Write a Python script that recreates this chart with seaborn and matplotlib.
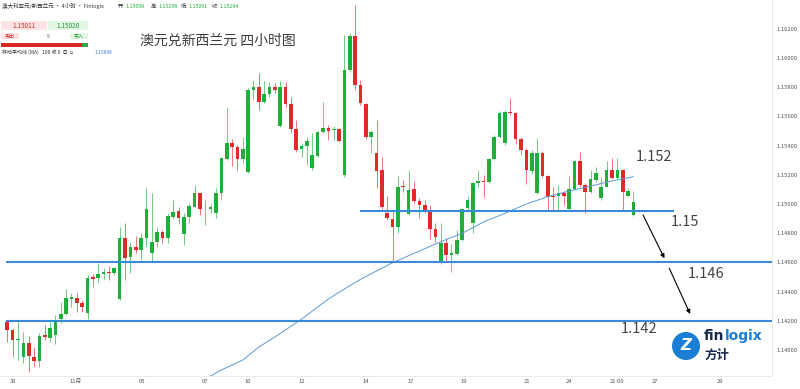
import numpy as np
import pandas as pd
import matplotlib
matplotlib.use('Agg')
import matplotlib.pyplot as plt
import matplotlib.patches as mpatches
import seaborn as sns

# ===== DATA (4H candles, AUD/NZD) =====
opens = [1.14194, 1.14137, 1.14068, 1.13952, 1.14048, 1.13954, 1.13927, 1.14103, 1.14084, 1.14105,
         1.14210, 1.14247, 1.14351, 1.14358, 1.14324, 1.14255, 1.14498, 1.14495, 1.14521, 1.14536,
         1.14529, 1.14347, 1.14765, 1.14635, 1.14708, 1.14685, 1.14765, 1.14666, 1.14742, 1.14810,
         1.14765, 1.14913, 1.14952, 1.14795, 1.14909, 1.14982, 1.15073, 1.14964, 1.14966, 1.14936,
         1.15073, 1.15308, 1.15416, 1.15388, 1.15308, 1.15217, 1.15781, 1.15799, 1.15701, 1.15754,
         1.15804, 1.15534, 1.15804, 1.15685, 1.15512, 1.15375, 1.15397, 1.15245, 1.15329, 1.15495,
         1.15523, 1.15510, 1.15512, 1.15199, 1.15918, 1.16151, 1.15815, 1.15685, 1.15457, 1.15351,
         1.15233, 1.14940, 1.14895, 1.14845, 1.15123, 1.14932, 1.15101, 1.15023, 1.14991, 1.14947,
         1.14827, 1.14594, 1.14731, 1.14651, 1.14658, 1.14753, 1.14971, 1.14872, 1.15146, 1.15160,
         1.15153, 1.15306, 1.15461, 1.15416, 1.15630, 1.15621, 1.15443, 1.15370, 1.15228, 1.15073,
         1.15351, 1.15192, 1.15055, 1.15055, 1.15077, 1.14964, 1.15101, 1.15297, 1.15130, 1.15084,
         1.15164, 1.15039, 1.15119, 1.15233, 1.15176, 1.15233, 1.15055, 1.14925]
highs = [1.14201, 1.14151, 1.14205, 1.14125, 1.14096, 1.14023, 1.14116, 1.14171, 1.14194, 1.14240,
         1.14331, 1.14416, 1.14388, 1.14392, 1.14342, 1.14514, 1.14521, 1.14598, 1.14560, 1.14575,
         1.14570, 1.14845, 1.14868, 1.14742, 1.14781, 1.14799, 1.15108, 1.15077, 1.14845, 1.14822,
         1.14936, 1.15027, 1.14982, 1.14936, 1.15005, 1.15130, 1.15077, 1.15027, 1.15000, 1.15108,
         1.15324, 1.15667, 1.15443, 1.15404, 1.15457, 1.15795, 1.15849, 1.15899, 1.15845, 1.15838,
         1.15827, 1.15845, 1.15838, 1.15735, 1.15575, 1.15416, 1.15461, 1.15484, 1.15502, 1.15701,
         1.15541, 1.15534, 1.15519, 1.16158, 1.16169, 1.16363, 1.15849, 1.15694, 1.15507, 1.15575,
         1.15324, 1.15055, 1.14954, 1.15192, 1.15164, 1.15233, 1.15160, 1.15039, 1.15027, 1.14993,
         1.14872, 1.14872, 1.14765, 1.14726, 1.14822, 1.14971, 1.15055, 1.15153, 1.15233, 1.15199,
         1.15313, 1.15473, 1.15639, 1.15644, 1.15724, 1.15632, 1.15461, 1.15382, 1.15370, 1.15450,
         1.15365, 1.15199, 1.15119, 1.15130, 1.15091, 1.15192, 1.15301, 1.15358, 1.15142, 1.15233,
         1.15251, 1.15187, 1.15297, 1.15313, 1.15313, 1.15238, 1.15110, 1.15091]
lows = [1.14057, 1.13954, 1.13931, 1.13909, 1.13851, 1.13886, 1.13886, 1.14068, 1.14057, 1.14041,
        1.14183, 1.14240, 1.14297, 1.14262, 1.14262, 1.14210, 1.14429, 1.14468, 1.14484, 1.14479,
        1.14514, 1.14342, 1.14479, 1.14525, 1.14662, 1.14616, 1.14708, 1.14605, 1.14708, 1.14735,
        1.14735, 1.14895, 1.14863, 1.14719, 1.14868, 1.14977, 1.14925, 1.14856, 1.14936, 1.14902,
        1.15027, 1.15301, 1.15260, 1.15233, 1.15279, 1.15212, 1.15712, 1.15644, 1.15690, 1.15735,
        1.15758, 1.15530, 1.15667, 1.15484, 1.15358, 1.15324, 1.15267, 1.15233, 1.15320, 1.15488,
        1.15438, 1.15438, 1.15427, 1.15183, 1.15906, 1.15781, 1.15678, 1.15443, 1.15347, 1.15108,
        1.14966, 1.14890, 1.14605, 1.14803, 1.15084, 1.14925, 1.15005, 1.14902, 1.14936, 1.14758,
        1.14742, 1.14590, 1.14605, 1.14536, 1.14651, 1.14749, 1.14947, 1.14799, 1.15119, 1.15046,
        1.15142, 1.15301, 1.15450, 1.15404, 1.15610, 1.15411, 1.15336, 1.15137, 1.15206, 1.15069,
        1.15183, 1.14959, 1.14959, 1.14959, 1.14993, 1.14959, 1.15096, 1.15119, 1.14936, 1.15073,
        1.15153, 1.15027, 1.15114, 1.15169, 1.15169, 1.14959, 1.15048, 1.14918]
closes = [1.14137, 1.14068, 1.14072, 1.14048, 1.13959, 1.13927, 1.14096, 1.14087, 1.14149, 1.14205,
          1.14244, 1.14354, 1.14365, 1.14324, 1.14297, 1.14495, 1.14488, 1.14521, 1.14534, 1.14529,
          1.14560, 1.14765, 1.14628, 1.14708, 1.14685, 1.14765, 1.14966, 1.14742, 1.14810, 1.14765,
          1.14918, 1.14947, 1.14902, 1.14909, 1.14986, 1.15073, 1.14964, 1.14968, 1.14982, 1.15073,
          1.15313, 1.15416, 1.15388, 1.15308, 1.15375, 1.15781, 1.15798, 1.15701, 1.15754, 1.15804,
          1.15781, 1.15804, 1.15685, 1.15512, 1.15370, 1.15397, 1.15434, 1.15336, 1.15495, 1.15523,
          1.15502, 1.15514, 1.15434, 1.15918, 1.16151, 1.15815, 1.15690, 1.15457, 1.15495, 1.15228,
          1.14979, 1.14902, 1.14845, 1.15119, 1.15114, 1.15096, 1.15023, 1.14993, 1.14954, 1.14827,
          1.14772, 1.14731, 1.14651, 1.14662, 1.14753, 1.14964, 1.15027, 1.15142, 1.15160, 1.15151,
          1.15306, 1.15461, 1.15621, 1.15632, 1.15621, 1.15443, 1.15370, 1.15233, 1.15347, 1.15351,
          1.15192, 1.15050, 1.15046, 1.15077, 1.15055, 1.15101, 1.15297, 1.15130, 1.15084, 1.15169,
          1.15210, 1.15119, 1.15233, 1.15176, 1.15233, 1.15084, 1.15089, 1.15011]

# 100-period moving average at these candles
ma_idx = [36, 40, 44, 47, 50, 55, 60, 63, 66, 72, 77, 81, 85, 89, 93, 97, 101, 105, 109, 113, 117]
ma_val = [1.13780, 1.13863, 1.13931, 1.14020, 1.14089, 1.14212, 1.14349, 1.14418, 1.14484,
          1.14598, 1.14678, 1.14742, 1.14799, 1.14877, 1.14936, 1.15000, 1.15050, 1.15089,
          1.15123, 1.15158, 1.15187]

# x-axis labels and the candle they sit under
date_pos = [1.1, 12.8, 25.2, 36.9, 45.0, 55.1, 67.0, 75.3, 85.2, 97.1, 105.0, 114.0, 121.1, 133.1]
date_lbl = ['30', '11月', '05', '07', '10', '12', '14', '17', '19', '21', '24', '21:00', '27', '29']

# support / target levels
levels = [1.146, 1.142]
short_level = 1.14952

df = pd.DataFrame({'open': opens, 'high': highs, 'low': lows, 'close': closes})
df['i'] = np.arange(len(df))
df['up'] = df['close'] >= df['open']
ma = pd.DataFrame({'i': ma_idx, 'ma': ma_val})

GREEN = '#1fae3a'
RED = '#e02a2a'
BLUE = '#3a8ad6'

sns.set_theme(style='white')
plt.rcParams['font.family'] = ['Noto Sans CJK SC', 'DejaVu Sans']

fig = plt.figure(figsize=(8, 3.89), dpi=100)
ax = fig.add_axes([0, 13 / 389, 772 / 800, 376 / 389])

# ===== CANDLES =====
colors = np.where(df['up'], GREEN, RED)
ax.vlines(df['i'], df['low'], df['high'], colors=colors, lw=0.6, alpha=0.75, zorder=2)
body_lo = np.minimum(df['open'], df['close'])
body_h = np.maximum((df['close'] - df['open']).abs(), 0.00004)
ax.bar(df['i'], body_h, bottom=body_lo, width=0.68, color=colors, linewidth=0, zorder=3)

# moving average
sns.lineplot(data=ma, x='i', y='ma', ax=ax, color='#5b9bd5', lw=0.7, zorder=4)

# ===== LEVELS =====
for lv in levels:
    ax.hlines(lv, -0.25, 143, color=BLUE, lw=1.5, zorder=5)
ax.hlines(short_level, 65.9, 124.6, color=BLUE, lw=1.5, zorder=5)

arrow_kw = dict(arrowstyle='-|>', color='black', lw=0.8, mutation_scale=6, shrinkA=0, shrinkB=0)
ax.annotate('', xy=(122.8, 1.14628), xytext=(118.8, 1.14925), arrowprops=arrow_kw, zorder=6)
ax.annotate('', xy=(127.6, 1.14247), xytext=(123.7, 1.14560), arrowprops=arrow_kw, zorder=6)

for txt, x, y in [('1.152', 117.5, 1.15322), ('1.15', 123.9, 1.14877),
                  ('1.146', 127.2, 1.14520), ('1.142', 114.7, 1.14144)]:
    ax.text(x, y, txt, fontsize=10.5, color='#444444', ha='left', va='center')

# ===== AXES =====
ax.set_xlim(-1.36, 142.9)
ax.set_ylim(1.13822, 1.16397)
ax.set_xlabel('')
ax.set_ylabel('')
ax.yaxis.tick_right()
yt = np.arange(1.140, 1.1621, 0.002)
ax.set_yticks(yt)
ax.set_yticklabels([f'{v:.5f}' for v in yt])
ax.set_xticks(date_pos)
ax.set_xticklabels(date_lbl)
ax.tick_params(axis='both', length=0, labelsize=4.2, labelcolor='#555555')
ax.tick_params(axis='y', pad=3)
ax.tick_params(axis='x', pad=2)
for s in ['left', 'top']:
    ax.spines[s].set_visible(False)
for s in ['right', 'bottom']:
    ax.spines[s].set_color('#e8e8e8')
    ax.spines[s].set_linewidth(0.6)

# ===== HEADER WIDGETS =====
def fx(px):
    return px / 800


def fy(py):
    return 1 - py / 389


fig.text(fx(140), fy(41), '澳元兑新西兰元 四小时图', fontsize=10, color='#3c3c3c', va='center')

fig.text(fx(2), fy(6), '澳大利亚元/新西兰元 · 4小时 · Finlogix', fontsize=4, color='#333333', va='center')
for lab, x, val in [('开:', 118, '1.15098'), ('高:', 151, '1.15298'),
                    ('低:', 181, '1.15091'), ('收:', 212, '1.15294')]:
    fig.text(fx(x), fy(6), lab, fontsize=3.8, color='#333333', va='center')
    fig.text(fx(x + 7), fy(6), val, fontsize=3.8, color=GREEN, va='center')

fig.patches.append(mpatches.Rectangle((fx(1), fy(30)), fx(46), 9.5 / 389, transform=fig.transFigure,
                                      color='#fde3e3', lw=0))
fig.patches.append(mpatches.Rectangle((fx(48), fy(30)), fx(40), 9.5 / 389, transform=fig.transFigure,
                                      color='#e2f6e4', lw=0))
fig.text(fx(24), fy(25.5), '1.15011', fontsize=4.6, color='#d62a2a', ha='center', va='center')
fig.text(fx(68), fy(25.5), '1.15020', fontsize=4.6, color='#1c9a35', ha='center', va='center')

fig.patches.append(mpatches.Rectangle((fx(1), fy(39)), fx(18), 6 / 389, transform=fig.transFigure,
                                      color='#fde3e3', lw=0))
fig.patches.append(mpatches.Rectangle((fx(70), fy(39)), fx(18), 6 / 389, transform=fig.transFigure,
                                      color='#e2f6e4', lw=0))
fig.text(fx(10), fy(36), '卖出', fontsize=3.6, color='#d62a2a', ha='center', va='center')
fig.text(fx(48), fy(36), '9', fontsize=3.6, color='#555555', ha='center', va='center')
fig.text(fx(79), fy(36), '买入', fontsize=3.6, color='#1c9a35', ha='center', va='center')

fig.patches.append(mpatches.Rectangle((fx(1), fy(47)), fx(81), 3.5 / 389, transform=fig.transFigure,
                                      color='#d92626', lw=0))
fig.patches.append(mpatches.Rectangle((fx(82), fy(47)), fx(6), 3.5 / 389, transform=fig.transFigure,
                                      color='#22ad3c', lw=0))

fig.text(fx(2), fy(52), '移动平均线 (MA)   100 收 0  ◎  ⌂', fontsize=3.6, color='#333333', va='center')
fig.text(fx(95), fy(52), '1.15096', fontsize=3.6, color='#3a7fd0', va='center')

# ===== LOGO =====
logo = mpatches.Circle((686 / 100, (389 - 346) / 100), 0.14, transform=fig.dpi_scale_trans,
                       color='#1a7fd4', lw=0)
fig.patches.append(logo)
fig.text(fx(686), fy(346), 'Z', fontsize=11, color='white', fontweight='bold', style='italic',
         ha='center', va='center', family='DejaVu Sans')
fig.text(fx(704), fy(336), 'fin', fontsize=10, color='#14284b', fontweight='bold', va='center',
         family='DejaVu Sans')
fig.text(fx(725), fy(336), 'logix', fontsize=10, color='#1a7fd4', fontweight='bold', va='center',
         family='DejaVu Sans')
fig.text(fx(705), fy(355), '方计', fontsize=9, color='#14284b', fontweight='bold', va='center')

fig.savefig('out.png', dpi=100, facecolor='white')
